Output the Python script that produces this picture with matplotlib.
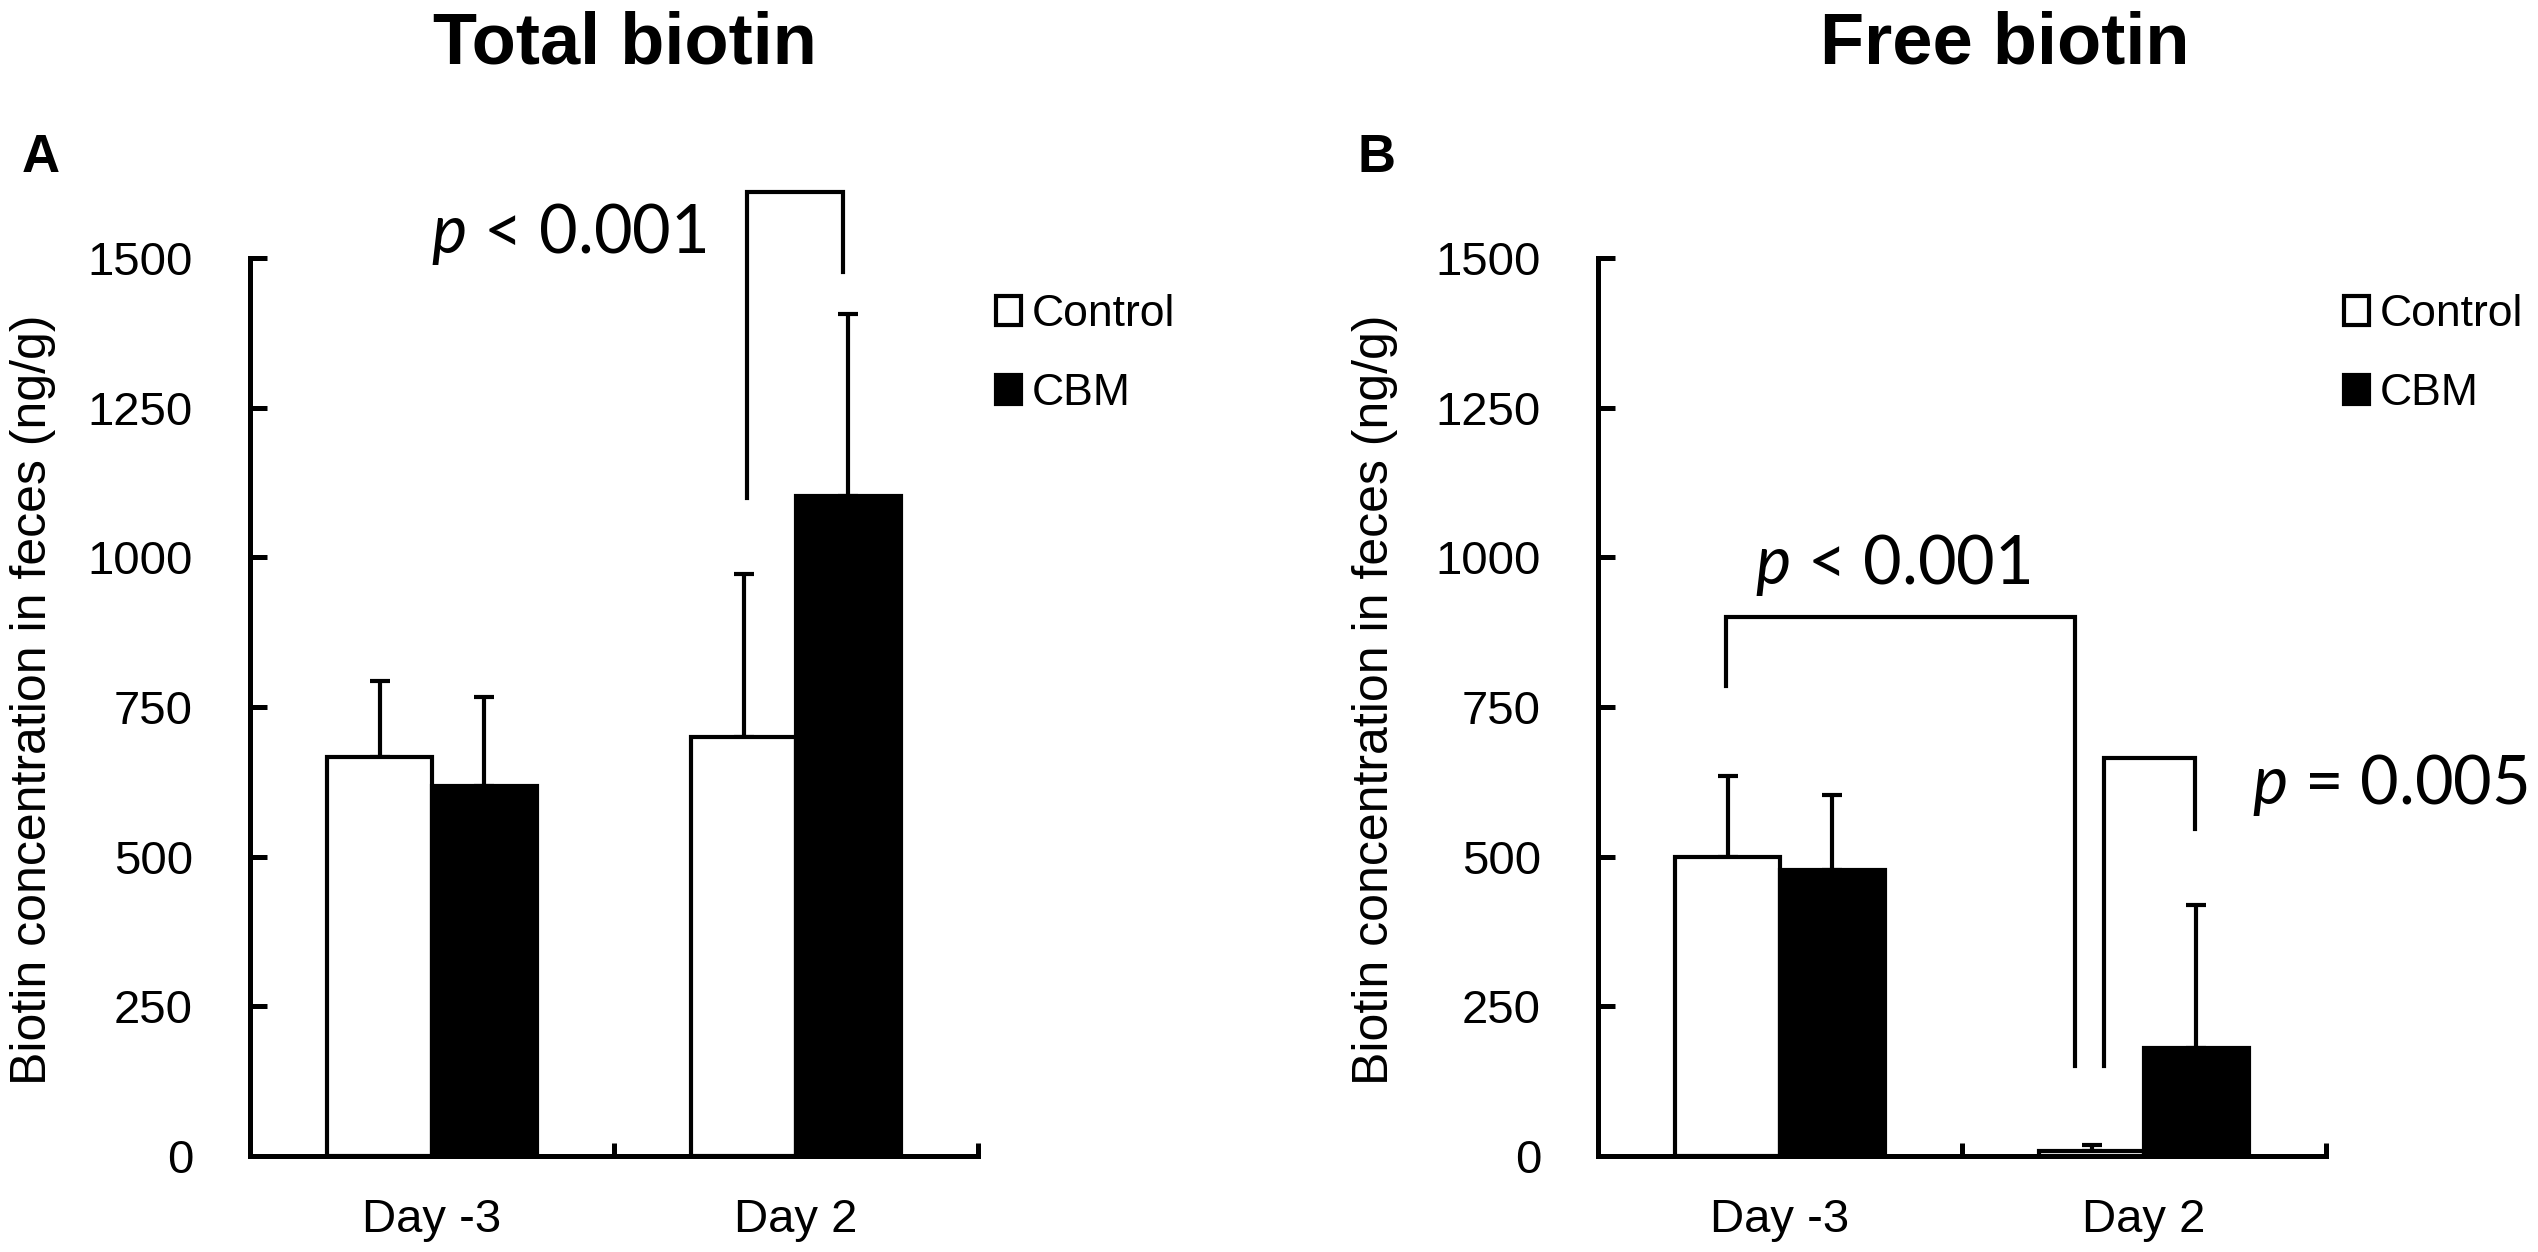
import matplotlib
matplotlib.use('Agg')
import numpy as np
import matplotlib.pyplot as plt
from matplotlib.patches import Patch

# data
days = ['Day -3', 'Day 2']
groups = ['Control', 'CBM']

total_control = [666, 700]
total_control_sd = [127, 272]
total_cbm = [618, 1103]
total_cbm_sd = [148, 304]

free_control = [500, 9]
free_control_sd = [135, 10]
free_cbm = [477, 180]
free_cbm_sd = [126, 240]

plt.rcParams['font.family'] = ['Liberation Sans', 'DejaVu Sans']
plt.rcParams['mathtext.fontset'] = 'custom'
plt.rcParams['mathtext.it'] = 'Lato:italic'
plt.rcParams['mathtext.rm'] = 'Lato'

W, H = 2538, 1252
fig = plt.figure(figsize=(W / 100, H / 100), dpi=100, facecolor='white')

AX_LW = 3.6
LW = 3.0
bar_w = 0.288
x = np.arange(len(days))


def panel(left_px, ctrl, ctrl_sd, cbm, cbm_sd):
    ax = fig.add_axes([left_px / W, (H - 1156) / H, 728 / W, 898 / H])
    xc = x - bar_w / 2
    xb = x + bar_w / 2
    ax.bar(xc, ctrl, bar_w, color='white', edgecolor='black', linewidth=LW, zorder=2)
    ax.bar(xb, cbm, bar_w, color='black', edgecolor='black', linewidth=LW, zorder=2)
    for xs, v, sd in ((xc, ctrl, ctrl_sd), (xb, cbm, cbm_sd)):
        ax.errorbar(xs, v, yerr=[np.zeros(len(v)), sd], fmt='none', ecolor='black',
                    elinewidth=3.0, capsize=7, capthick=3.0, zorder=1)
    ax.set_xlim(-0.5, 1.5)
    ax.set_ylim(0, 1500)
    ax.spines['top'].set_visible(False)
    ax.spines['right'].set_visible(False)
    ax.spines['left'].set_linewidth(AX_LW)
    ax.spines['bottom'].set_linewidth(AX_LW)
    ax.spines['left'].set_zorder(3)
    ax.spines['bottom'].set_zorder(3)
    ax.set_yticks([0, 250, 500, 750, 1000, 1250, 1500])
    ax.tick_params(axis='y', direction='in', length=12, width=AX_LW, labelsize=34, pad=41)
    ax.set_xticks(x)
    ax.set_xticklabels(days)
    ax.tick_params(axis='x', which='major', length=0, labelsize=34, pad=30)
    ax.set_xticks([0.5, 1.5], minor=True)
    ax.tick_params(axis='x', which='minor', direction='in', length=9.5, width=AX_LW)
    handles = [Patch(facecolor='white', edgecolor='black', linewidth=LW),
               Patch(facecolor='black', edgecolor='black', linewidth=LW)]
    ax.legend(handles, groups, loc='upper left', bbox_to_anchor=(1.025, 0.96),
              frameon=False, fontsize=32, handlelength=0.55, handleheight=0.62,
              handletextpad=0.25, labelspacing=0.86, borderaxespad=0, borderpad=0)
    return ax


def bracket(ax, x0, y0, x1, y1, top):
    ax.plot([x0, x0, x1, x1], [y0, top, top, y1], color='black', linewidth=LW,
            clip_on=False, solid_joinstyle='miter')


axA = panel(250, total_control, total_control_sd, total_cbm, total_cbm_sd)
axB = panel(1598, free_control, free_control_sd, free_cbm, free_cbm_sd)

bracket(axA, 0.865, 1099, 1.130, 1476, 1611)
axA.text(-0.004, 1509, '$p$ < 0.001', fontsize=48, family='Lato', ha='left', va='baseline')

bracket(axB, -0.148, 785, 0.810, 150, 901)
bracket(axB, 0.890, 150, 1.141, 546, 665)
axB.text(-0.069, 955, '$p$ < 0.001', fontsize=48, family='Lato', ha='left', va='baseline')
axB.text(1.297, 588, '$p$ = 0.005', fontsize=48, family='Lato', ha='left', va='baseline')

# titles, panel letters, y labels
fig.text(625 / W, 1 - 64 / H, 'Total biotin', fontsize=52, fontweight='bold', ha='center', va='baseline')
fig.text(2005 / W, 1 - 64 / H, 'Free biotin', fontsize=52, fontweight='bold', ha='center', va='baseline')
fig.text(22 / W, 1 - 172 / H, 'A', fontsize=38, fontweight='bold', ha='left', va='baseline')
fig.text(1357 / W, 1 - 172 / H, 'B', fontsize=38, fontweight='bold', ha='left', va='baseline')
ylab = 'Biotin concentration in feces (ng/g)'
fig.text(33 / W, 1 - 700 / H, ylab, fontsize=36, rotation=90, ha='center', va='center')
fig.text(1375 / W, 1 - 700 / H, ylab, fontsize=36, rotation=90, ha='center', va='center')

fig.savefig('out.png', dpi=100, facecolor='white')
